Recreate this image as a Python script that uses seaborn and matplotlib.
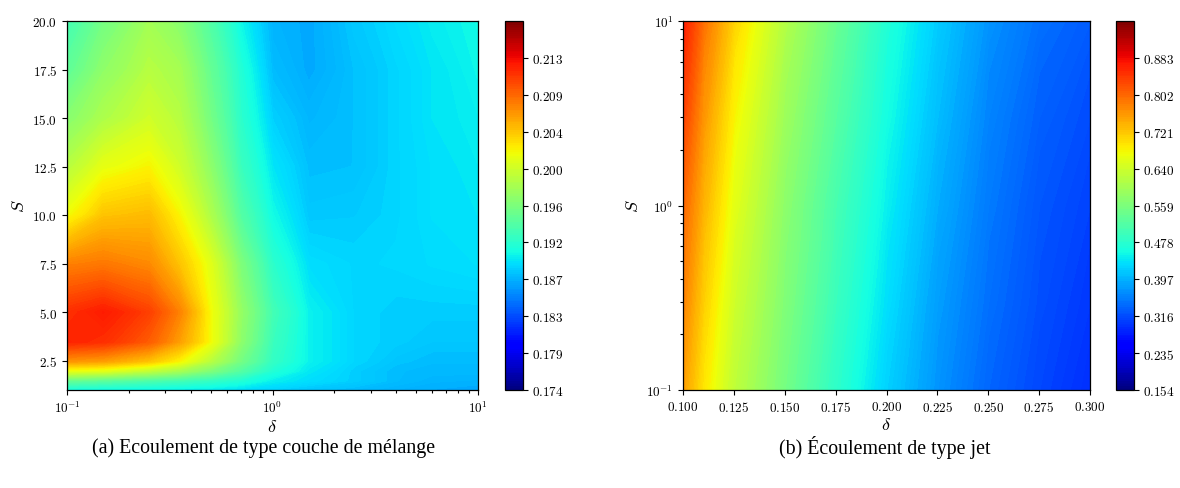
import numpy as np
import matplotlib
matplotlib.use("Agg")
import matplotlib.pyplot as plt
import seaborn as sns

# ---------------- data ----------------
# (a) mixing layer
delta_a = [0.1, 0.15, 0.25, 0.35, 0.5, 0.7, 1.0, 1.5, 2.5, 4.0, 6.0, 10.0]
S_a = [1.0, 1.5, 2.0, 2.5, 3.5, 5.0, 7.5, 10.0, 12.5, 15.0, 17.5, 20.0]
Z_a = [
    [0.1903, 0.1900, 0.1898, 0.1896, 0.1894, 0.1890, 0.1885, 0.1880, 0.1876, 0.1872, 0.1870, 0.1868],
    [0.1946, 0.1941, 0.1933, 0.1928, 0.1920, 0.1911, 0.1898, 0.1891, 0.1884, 0.1877, 0.1873, 0.1872],
    [0.2014, 0.2010, 0.1993, 0.1980, 0.1959, 0.1937, 0.1911, 0.1895, 0.1884, 0.1877, 0.1876, 0.1876],
    [0.2066, 0.2062, 0.2045, 0.2023, 0.1989, 0.1954, 0.1920, 0.1899, 0.1887, 0.1880, 0.1877, 0.1877],
    [0.2118, 0.2113, 0.2092, 0.2062, 0.2019, 0.1967, 0.1924, 0.1899, 0.1887, 0.1884, 0.1881, 0.1881],
    [0.2113, 0.2122, 0.2105, 0.2075, 0.2019, 0.1971, 0.1928, 0.1899, 0.1887, 0.1884, 0.1884, 0.1884],
    [0.2075, 0.2079, 0.2071, 0.2045, 0.2010, 0.1959, 0.1916, 0.1891, 0.1887, 0.1888, 0.1890, 0.1892],
    [0.2019, 0.2045, 0.2049, 0.2023, 0.1984, 0.1937, 0.1903, 0.1882, 0.1883, 0.1887, 0.1892, 0.1894],
    [0.1989, 0.2014, 0.2023, 0.2002, 0.1967, 0.1924, 0.1894, 0.1878, 0.1879, 0.1887, 0.1892, 0.1896],
    [0.1964, 0.1984, 0.2002, 0.1989, 0.1954, 0.1916, 0.1885, 0.1874, 0.1879, 0.1887, 0.1894, 0.1898],
    [0.1943, 0.1968, 0.1989, 0.1980, 0.1946, 0.1911, 0.1877, 0.1869, 0.1879, 0.1887, 0.1894, 0.1901],
    [0.1928, 0.1954, 0.1978, 0.1965, 0.1935, 0.1901, 0.1873, 0.1869, 0.1882, 0.1890, 0.1897, 0.1903],
]
vmin_a, vmax_a = 0.17435, 0.21735
cbar_labels_a = ["0.174", "0.179", "0.183", "0.187", "0.192",
                 "0.196", "0.200", "0.204", "0.209", "0.213"]

# (b) jet
delta_b = [0.1, 0.11, 0.125, 0.15, 0.175, 0.2, 0.225, 0.25, 0.275, 0.3]
S_b = [0.1, 0.3, 1.0, 3.0, 10.0]
Z_b = [
    [0.7534, 0.6927, 0.6238, 0.5509, 0.4821, 0.4213, 0.3727, 0.3363, 0.3120, 0.2917],
    [0.7777, 0.7129, 0.6400, 0.5631, 0.4942, 0.4334, 0.3808, 0.3444, 0.3184, 0.2998],
    [0.8020, 0.7372, 0.6603, 0.5752, 0.5064, 0.4456, 0.3930, 0.3525, 0.3241, 0.3079],
    [0.8344, 0.7615, 0.6805, 0.5914, 0.5226, 0.4578, 0.4051, 0.3606, 0.3322, 0.3160],
    [0.8668, 0.7939, 0.7100, 0.6120, 0.5400, 0.4699, 0.4173, 0.3727, 0.3444, 0.3282],
]
vmin_b, vmax_b = 0.154, 0.964
cbar_labels_b = ["0.154", "0.235", "0.316", "0.397", "0.478",
                 "0.559", "0.640", "0.721", "0.802", "0.883"]

yticks_a = [2.5, 5.0, 7.5, 10.0, 12.5, 15.0, 17.5, 20.0]
xticks_b = [0.100, 0.125, 0.150, 0.175, 0.200, 0.225, 0.250, 0.275, 0.300]

caption_a = "(a) Ecoulement de type couche de mélange"
caption_b = "(b) Écoulement de type jet"

# ---------------- style ----------------
sns.set_theme(context="paper", style="ticks")
plt.rcParams.update({
    "font.family": "serif",
    "font.serif": ["cmr10", "DejaVu Serif"],
    "mathtext.fontset": "cm",
    "axes.formatter.use_mathtext": True,
    "axes.linewidth": 0.9,
    "axes.edgecolor": "black",
    "axes.labelcolor": "black",
    "text.color": "black",
    "xtick.color": "black",
    "ytick.color": "black",
    "xtick.labelsize": 9.5,
    "ytick.labelsize": 9.5,
    "xtick.major.size": 3.5,
    "ytick.major.size": 3.5,
    "xtick.minor.size": 2.0,
    "ytick.minor.size": 2.0,
    "xtick.major.width": 0.8,
    "ytick.major.width": 0.8,
    "xtick.direction": "out",
    "ytick.direction": "out",
})
cmap = matplotlib.colormaps["jet"]

W, H = 1180, 489
fig = plt.figure(figsize=(W / 100, H / 100), dpi=100)

def rect(x0, x1, y0, y1):
    return [x0 / W, 1 - y1 / H, (x1 - x0) / W, (y1 - y0) / H]

def m(s):
    return "$" + s + "$"

ax_a = fig.add_axes(rect(67, 478, 22, 391))
cax_a = fig.add_axes(rect(504.5, 522.5, 22, 391))
ax_b = fig.add_axes(rect(683, 1090, 22, 391))
cax_b = fig.add_axes(rect(1115.5, 1133.5, 22, 391))

# (a)
lev_a = np.linspace(vmin_a, vmax_a, 201)
cf_a = ax_a.contourf(delta_a, S_a, np.array(Z_a), levels=lev_a, cmap=cmap,
                     vmin=vmin_a, vmax=vmax_a)
ax_a.set_xscale("log")
ax_a.set_xlim(0.1, 10)
ax_a.set_ylim(1, 20)
ax_a.set_yticks(yticks_a)
ax_a.set_yticklabels([m(f"{t:.1f}") for t in yticks_a])
ax_a.set_xlabel(r"$\delta$", fontsize=13, labelpad=2)
ax_a.set_ylabel(r"$S$", fontsize=13, labelpad=4)
tick_pos_a = np.linspace(vmin_a, vmax_a, 11)[:-1]
cb_a = fig.colorbar(cf_a, cax=cax_a, ticks=tick_pos_a)
cb_a.ax.set_yticklabels([m(s) for s in cbar_labels_a])
cb_a.outline.set_linewidth(0.9)

# (b)
lev_b = np.linspace(vmin_b, vmax_b, 201)
cf_b = ax_b.contourf(delta_b, S_b, np.array(Z_b), levels=lev_b, cmap=cmap,
                     vmin=vmin_b, vmax=vmax_b)
ax_b.set_yscale("log")
ax_b.set_xlim(0.1, 0.3)
ax_b.set_ylim(0.1, 10)
ax_b.set_xticks(xticks_b)
ax_b.set_xticklabels([m(f"{t:.3f}") for t in xticks_b])
ax_b.set_xlabel(r"$\delta$", fontsize=13, labelpad=2)
ax_b.set_ylabel(r"$S$", fontsize=13, labelpad=4)
tick_pos_b = np.linspace(vmin_b, vmax_b, 11)[:-1]
cb_b = fig.colorbar(cf_b, cax=cax_b, ticks=tick_pos_b)
cb_b.ax.set_yticklabels([m(s) for s in cbar_labels_b])
cb_b.outline.set_linewidth(0.9)

for c in (cf_a, cf_b):
    c.set_edgecolor("face")

fig.text(264 / W, 1 - 448 / H, caption_a, ha="center", va="center",
         fontsize=14.3, family="Liberation Serif", color="black")
fig.text(885 / W, 1 - 448 / H, caption_b, ha="center", va="center",
         fontsize=14.3, family="Liberation Serif", color="black")

fig.savefig("out.png", dpi=100)
